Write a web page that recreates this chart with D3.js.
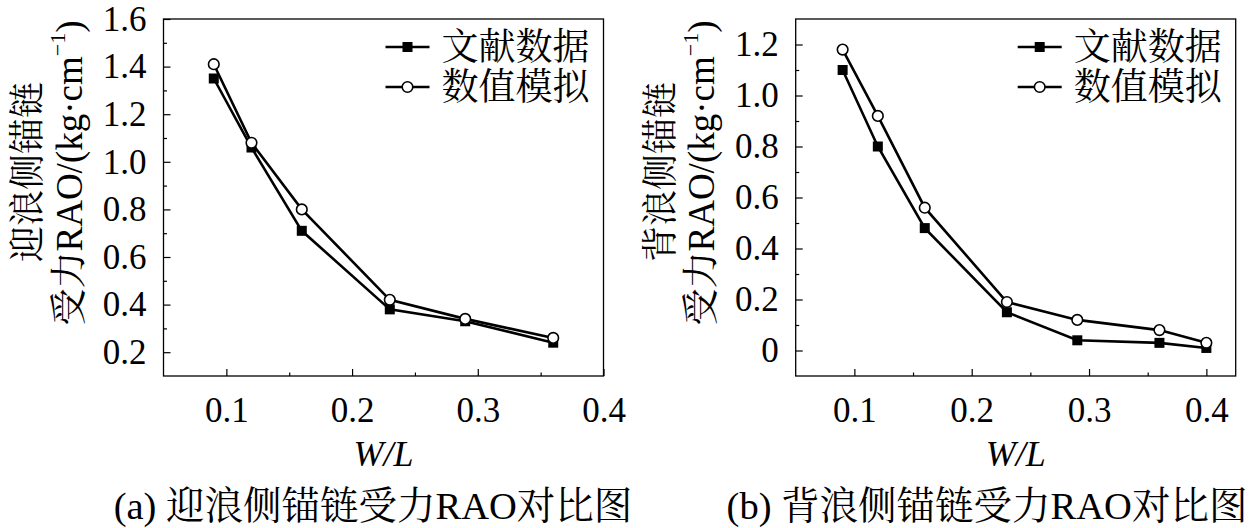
<!DOCTYPE html>
<html>
<head>
<meta charset="utf-8">
<script src="https://cdn.jsdelivr.net/npm/d3@7"></script>
<style>
  body { margin: 0; background: #fff; }
  svg { display: block; }
  svg text { fill: #000; font-family: "Liberation Serif", "Noto Serif CJK SC", serif; }
</style>
</head>
<body>
<svg id="chart" width="1260" height="528"></svg>
<script>
// --- data ---
const seriesNames = ["文献数据", "数值模拟"];

const xLeft = [0.09, 0.12, 0.16, 0.23, 0.29, 0.36];
const refLeft = [1.35, 1.06, 0.71, 0.38, 0.33, 0.24];
const simLeft = [1.41, 1.08, 0.80, 0.42, 0.34, 0.26];

const xRight = [0.09, 0.12, 0.16, 0.23, 0.29, 0.36, 0.40];
const refRight = [1.10, 0.80, 0.48, 0.15, 0.04, 0.03, 0.01];
const simRight = [1.18, 0.92, 0.56, 0.19, 0.12, 0.08, 0.03];

const xTicks = [0.1, 0.2, 0.3, 0.4];
const xMinorTicks = [0.15, 0.25, 0.35];
const yTicksLeft = [0.2, 0.4, 0.6, 0.8, 1.0, 1.2, 1.4, 1.6];
const yMinorLeft = [0.3, 0.5, 0.7, 0.9, 1.1, 1.3, 1.5];
const yTicksRight = [0, 0.2, 0.4, 0.6, 0.8, 1.0, 1.2];
const yMinorRight = [0.1, 0.3, 0.5, 0.7, 0.9, 1.1];

const yTitleLeft = "迎浪侧锚链";
const yTitleRight = "背浪侧锚链";
const captionLeft = "(a) 迎浪侧锚链受力RAO对比图";
const captionRight = "(b) 背浪侧锚链受力RAO对比图";

const svg = d3.select("#chart");

function drawPanel(p) {
  const w = 440, h = 357;
  const g = svg.append("g").attr("transform", "translate(" + p.left + "," + p.top + ")");

  const x = d3.scaleLinear().domain(p.xDomain).range([0, w]);
  const y = d3.scaleLinear().domain(p.yDomain).range([h, 0]);

  // minor ticks
  g.append("g")
    .attr("transform", "translate(0," + h + ")")
    .call(d3.axisBottom(x).tickValues(xMinorTicks).tickSize(-3.5).tickFormat(""))
    .call(a => a.select(".domain").remove());
  g.append("g")
    .call(d3.axisLeft(y).tickValues(p.yMinor).tickSize(-3.5).tickFormat(""))
    .call(a => a.select(".domain").remove());

  // major ticks + labels
  const fmt = d => d === 0 ? "0" : d3.format(".1f")(d);
  const xa = g.append("g")
    .attr("transform", "translate(0," + h + ")")
    .call(d3.axisBottom(x).tickValues(xTicks).tickSize(-7).tickPadding(21).tickFormat(fmt));
  const ya = g.append("g")
    .call(d3.axisLeft(y).tickValues(p.yTicks).tickSize(-7).tickPadding(17).tickFormat(fmt));
  [xa, ya].forEach(a => {
    a.select(".domain").remove();
    a.selectAll("text").style("font-size", "35px");
  });
  g.selectAll(".tick line").attr("stroke", "#000").attr("stroke-width", 1.2);

  // frame
  g.append("rect")
    .attr("width", w).attr("height", h)
    .attr("fill", "none").attr("stroke", "#000").attr("stroke-width", 1.3);

  // series
  const line = d3.line().x(d => x(d[0])).y(d => y(d[1]));
  const refPts = p.xs.map((v, i) => [v, p.ref[i]]);
  const simPts = p.xs.map((v, i) => [v, p.sim[i]]);

  g.append("path").datum(refPts).attr("d", line)
    .attr("fill", "none").attr("stroke", "#000").attr("stroke-width", 2.6);
  g.append("path").datum(simPts).attr("d", line)
    .attr("fill", "none").attr("stroke", "#000").attr("stroke-width", 2.6);

  g.selectAll(".sq").data(refPts).enter().append("rect")
    .attr("x", d => x(d[0]) - 5).attr("y", d => y(d[1]) - 5)
    .attr("width", 10).attr("height", 10).attr("fill", "#000");
  g.selectAll(".ci").data(simPts).enter().append("circle")
    .attr("cx", d => x(d[0])).attr("cy", d => y(d[1])).attr("r", 5.3)
    .attr("fill", "#fff").attr("stroke", "#000").attr("stroke-width", 1.6);

  // legend
  const lg = g.append("g").attr("transform", "translate(222,0)");
  [28, 68].forEach((ly, i) => {
    lg.append("line").attr("x1", 0).attr("x2", 44).attr("y1", ly).attr("y2", ly)
      .attr("stroke", "#000").attr("stroke-width", 2.6);
    if (i === 0) {
      lg.append("rect").attr("x", 17).attr("y", ly - 5).attr("width", 10).attr("height", 10).attr("fill", "#000");
    } else {
      lg.append("circle").attr("cx", 22).attr("cy", ly).attr("r", 5.3)
        .attr("fill", "#fff").attr("stroke", "#000").attr("stroke-width", 1.6);
    }
    lg.append("text").attr("x", 56).attr("y", ly).attr("dy", "0.36em")
      .style("font-size", "37px").text(seriesNames[i]);
  });

  // x title
  svg.append("text")
    .attr("x", p.left + w / 2).attr("y", 466)
    .attr("text-anchor", "middle")
    .style("font-size", "36px").style("font-style", "italic")
    .text("W/L");

  // y title (two rotated lines)
  svg.append("text")
    .attr("transform", "translate(" + (p.left - 136) + ",172) rotate(-90)")
    .attr("text-anchor", "middle").attr("dy", "0.36em")
    .style("font-size", "36px")
    .text(p.yTitle);
  const t2 = svg.append("text")
    .attr("transform", "translate(" + (p.left - 95) + ",173) rotate(-90)")
    .attr("text-anchor", "middle").attr("dy", "0.36em")
    .style("font-size", "37px");
  t2.append("tspan").text("受力RAO/(kg·cm");
  t2.append("tspan").style("font-size", "22px").attr("dy", "-0.75em").text("−1");
  t2.append("tspan").attr("dy", "0.45em").text(")");

  // caption
  svg.append("text")
    .attr("x", p.captionX).attr("y", 519)
    .attr("text-anchor", "middle")
    .style("font-size", "38.5px")
    .text(p.caption);
}

drawPanel({
  left: 163.5, top: 19,
  xDomain: [0.05, 0.4], yDomain: [0.1, 1.6],
  yTicks: yTicksLeft, yMinor: yMinorLeft,
  xs: xLeft, ref: refLeft, sim: simLeft,
  yTitle: yTitleLeft, caption: captionLeft, captionX: 373
});

drawPanel({
  left: 795.7, top: 19,
  xDomain: [0.05, 0.425], yDomain: [-0.1, 1.3],
  yTicks: yTicksRight, yMinor: yMinorRight,
  xs: xRight, ref: refRight, sim: simRight,
  yTitle: yTitleRight, caption: captionRight, captionX: 987
});
</script>
</body>
</html>
